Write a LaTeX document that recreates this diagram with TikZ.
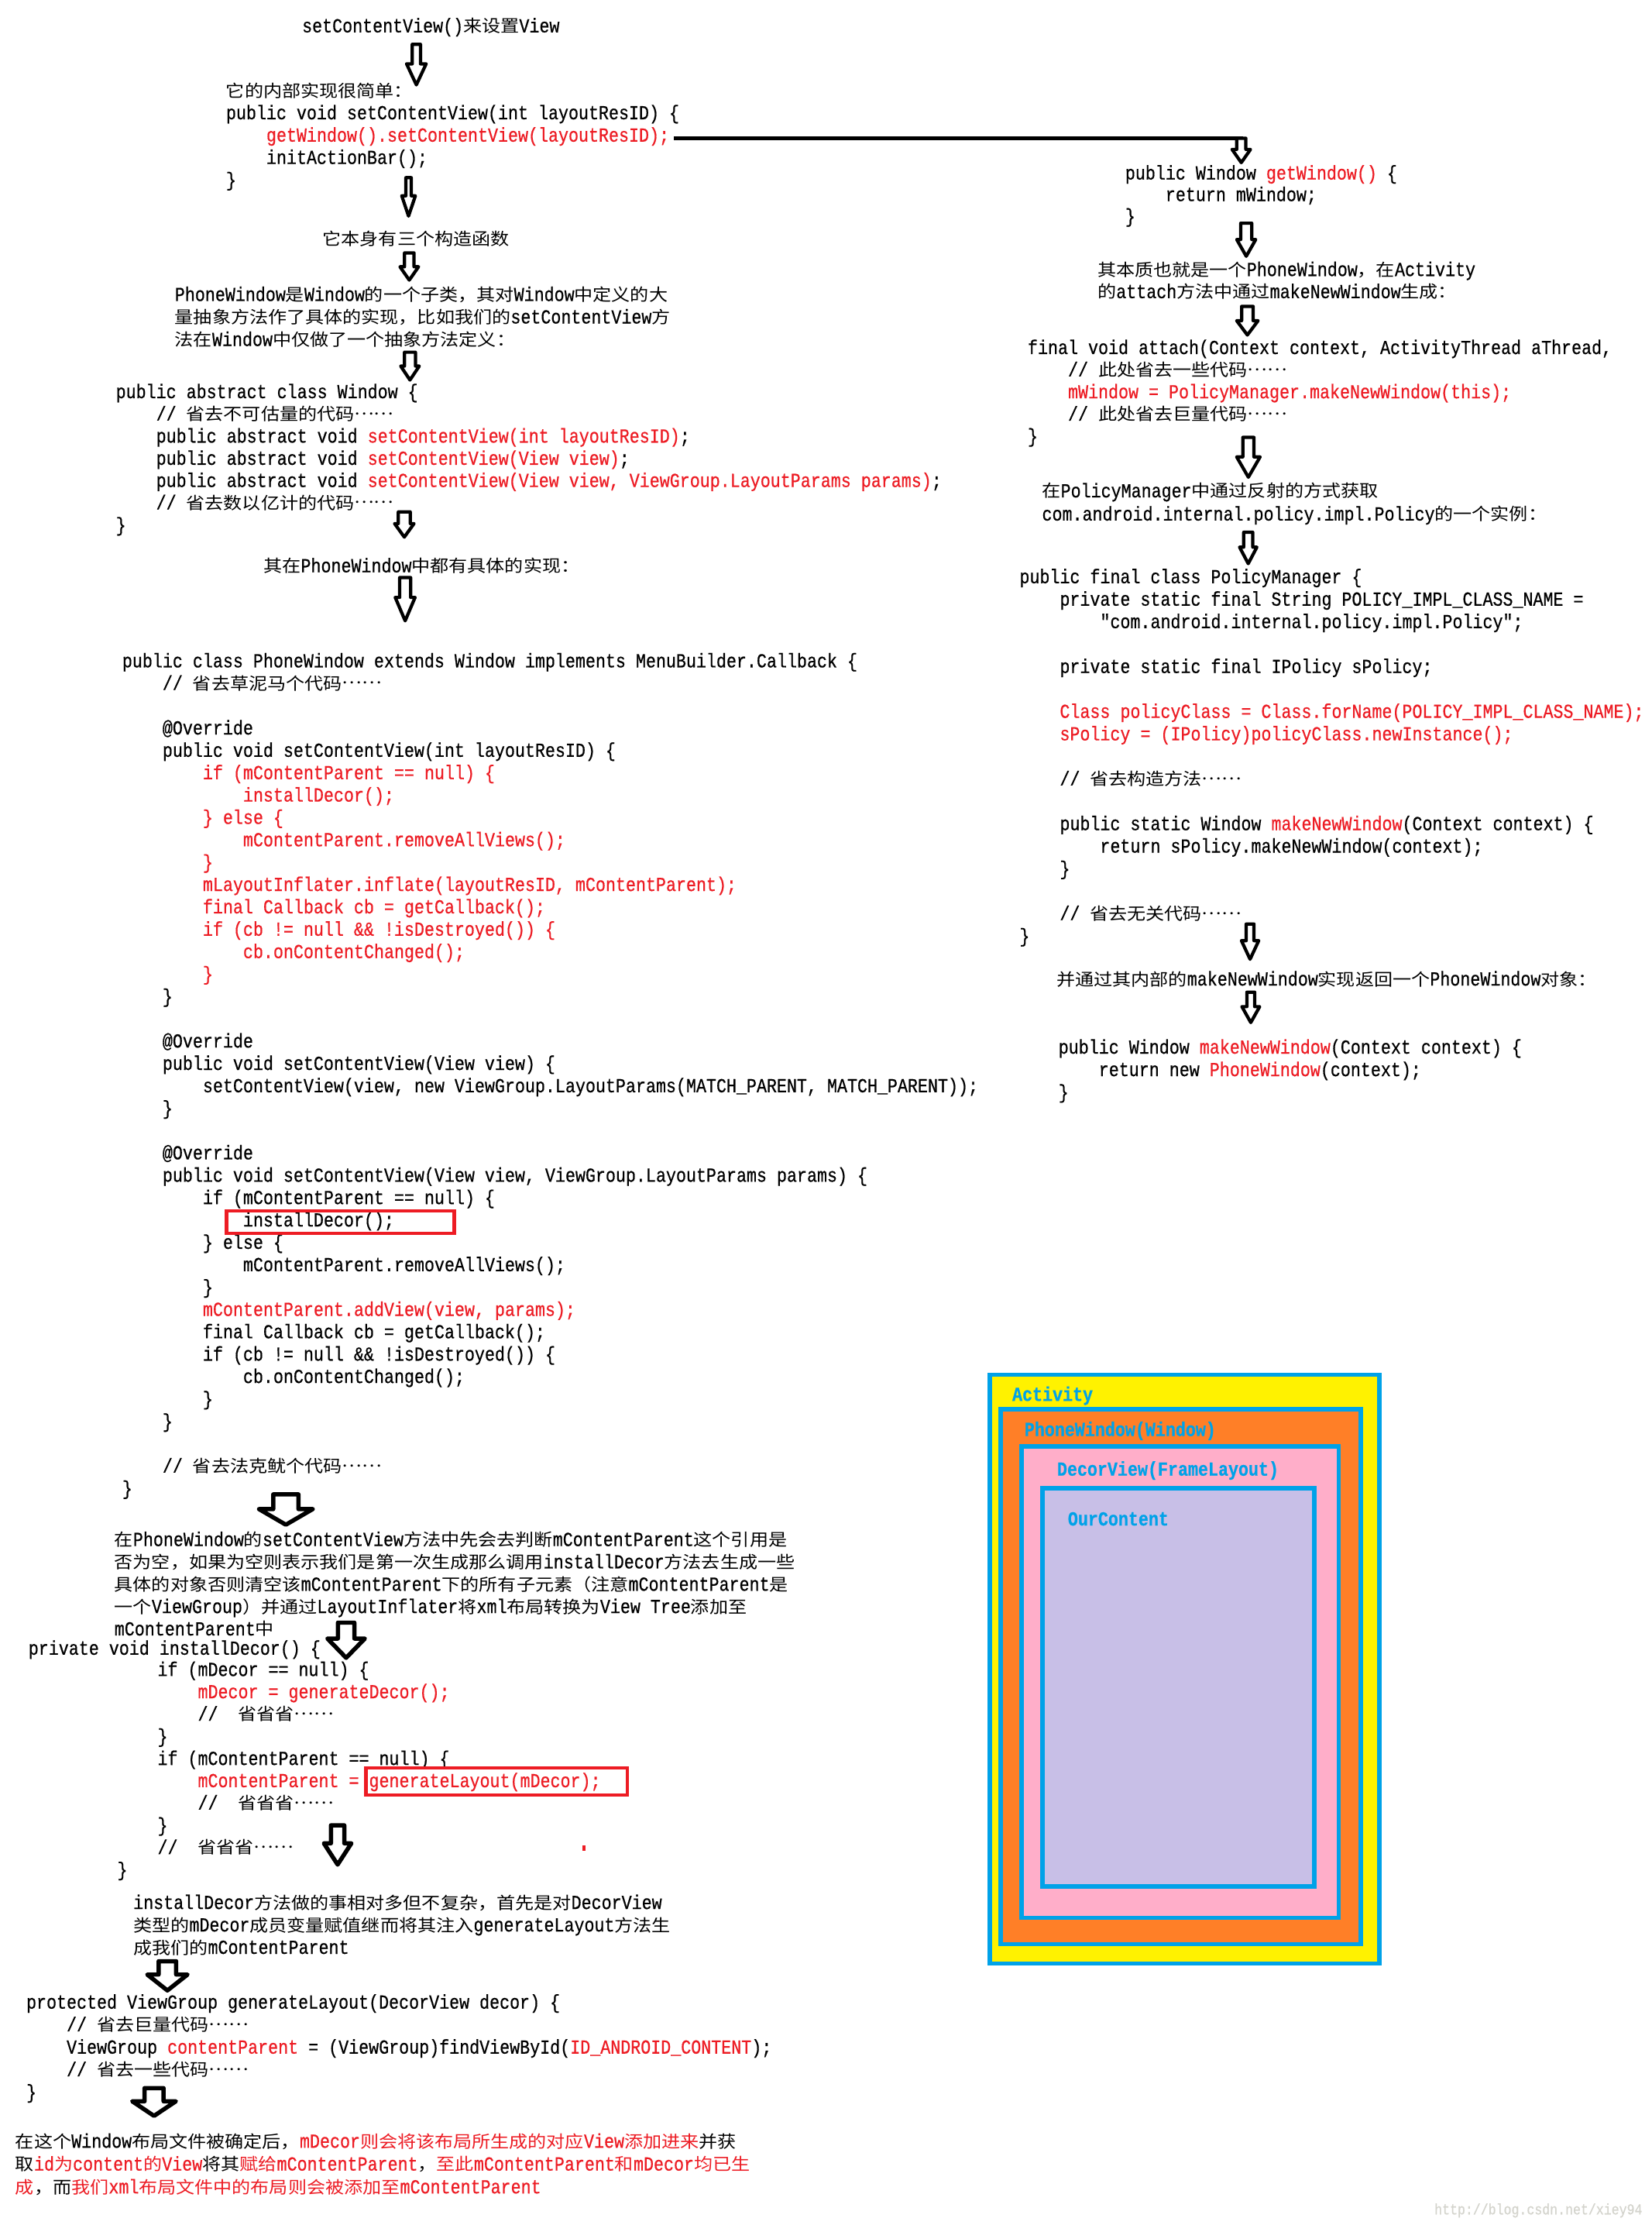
\documentclass[tikz,border=0pt]{standalone}
\usepackage{fontspec}
\setmonofont[FakeStretch=0.845,FakeBold=0.6]{Liberation Mono}
\newfontfamily\cjkfont[Scale=0.85,FakeStretch=1.105]{Noto Sans CJK SC}

\definecolor{codered}{RGB}{237,28,36}
\definecolor{layerblue}{RGB}{0,162,232}
\definecolor{layeryellow}{RGB}{255,242,0}
\definecolor{layerorange}{RGB}{255,127,39}
\definecolor{layerpink}{RGB}{255,174,201}
\definecolor{layerlilac}{RGB}{200,191,231}
\definecolor{wmgray}{RGB}{212,212,205}

% Chinese runs go to the CJK face, everything else to the mono face
\XeTeXinterchartokenstate=1
\newXeTeXintercharclass\cjkcls
\newcount\cjkc
\cjkc="4E00 \loop\XeTeXcharclass\cjkc=\cjkcls \advance\cjkc by 1 \ifnum\cjkc<"A000 \repeat
\cjkc="3000 \loop\XeTeXcharclass\cjkc=\cjkcls \advance\cjkc by 1 \ifnum\cjkc<"3040 \repeat
\cjkc="FF00 \loop\XeTeXcharclass\cjkc=\cjkcls \advance\cjkc by 1 \ifnum\cjkc<"FFF0 \repeat
\XeTeXcharclass"2026=\cjkcls
\XeTeXinterchartoks 0 \cjkcls={\cjkfont}
\XeTeXinterchartoks 4095 \cjkcls={\cjkfont}
\XeTeXinterchartoks \cjkcls 0={\ttfamily}
\XeTeXinterchartoks \cjkcls 4095={\ttfamily}
\XeTeXinterchartoks 4095 0={\ttfamily}

\newdimen\chw \chw=7.1pt
\newcommand\codefont{\ttfamily\fontsize{14}{15.8}\selectfont}
\newcommand\ind[1]{\hskip#1\chw\ignorespaces}
\newcommand\rd{\color{codered}}
\newcommand\bk{\color{black}}
\newcommand\elps{\raisebox{4pt}{……}}
\newcommand\crow[1]{\hbox{#1}}
\newcommand\codeblk[2][15.8pt]{\vtop{\baselineskip=#1\lineskiplimit=-\maxdimen #2}}

\begin{document}
\begin{tikzpicture}[x=1pt,y=1pt,yscale=-1,
  code/.style={anchor=base west,inner sep=0pt,font=\codefont},
  darr/.style={draw=black,fill=white,line width=2.3pt,line join=round},
  bigdarr/.style={darr,line width=3pt},
  joinline/.style={line width=2.5pt},
  hlbox/.style={draw=codered,line width=2.4pt},
  layer/.style={draw=layerblue,line width=3pt},
  layerlabel/.style={anchor=base west,inner sep=0pt,font={\codefont\bfseries},text=layerblue},
  watermark/.style={anchor=base west,inner sep=0pt,font={\ttfamily\fontsize{10.7}{12}\selectfont},text=wmgray}]

\fill[white] (0,0) rectangle (1164,1568);

%Shape: Rectangle (Activity)
\draw[layer,fill=layeryellow] (697.6,968.7) rectangle (972.3,1383.6);
%Shape: Rectangle (PhoneWindow)
\draw[layer,fill=layerorange] (705.3,993.2) rectangle (959.3,1370);
%Shape: Rectangle (DecorView)
\draw[layer,fill=layerpink] (720,1019.4) rectangle (943.6,1351.6);
%Shape: Rectangle (content)
\draw[layer,fill=layerlilac] (734.8,1048.9) rectangle (926.4,1329.3);

% Text Node
\node[layerlabel] (lblact) at (713.4,987.2) {Activity};
% Text Node
\node[layerlabel] (lblpw) at (722,1012) {PhoneWindow(Window)};
% Text Node
\node[layerlabel] (lbldecor) at (745,1039.9) {DecorView(FrameLayout)};
% Text Node
\node[layerlabel] (lblcontent) at (752.6,1075) {OurContent};

% Text Node
\node[code] (setview) at (212.8,22.8) {setContentView()来设置View};
% Text Node
\node[code] (inner) at (159.2,68.3) {\codeblk[15.75pt]{
  \crow{它的内部实现很简单：}
  \crow{public void setContentView(int layoutResID) \{}
  \crow{\ind{4}\rd getWindow().setContentView(layoutResID);}
  \crow{\ind{4}initActionBar();}
  \crow{\}}}};
% Text Node
\node[code] (threecons) at (227.3,172.7) {它本身有三个构造函数};
% Text Node
\node[code] (subclass) at (123.1,212.1) {\codeblk[15.85pt]{
  \crow{PhoneWindow是Window的一个子类，其对Window中定义的大}
  \crow{量抽象方法作了具体的实现，比如我们的setContentView方}
  \crow{法在Window中仅做了一个抽象方法定义：}}};
% Text Node
\node[code] (wincls) at (81.5,280.6) {\codeblk[15.65pt]{
  \crow{public abstract class Window \{}
  \crow{\ind{4}// 省去不可估量的代码\elps}
  \crow{\ind{4}public abstract void \rd setContentView(int layoutResID)\bk;}
  \crow{\ind{4}public abstract void \rd setContentView(View view)\bk;}
  \crow{\ind{4}public abstract void \rd setContentView(View view, ViewGroup.LayoutParams params)\bk;}
  \crow{\ind{4}// 省去数以亿计的代码\elps}
  \crow{\}}}};
% Text Node
\node[code] (impl) at (185.6,403.3) {其在PhoneWindow中都有具体的实现：};
% Text Node
\node[code] (pwcls) at (86,470.3) {\codeblk[15.76pt]{
  \crow{public class PhoneWindow extends Window implements MenuBuilder.Callback \{}
  \crow{\ind{4}// 省去草泥马个代码\elps}
  \crow{}
  \crow{\ind{4}@Override}
  \crow{\ind{4}public void setContentView(int layoutResID) \{}
  \crow{\ind{8}\rd if (mContentParent == null) \{}
  \crow{\ind{12}\rd installDecor();}
  \crow{\ind{8}\rd \} else \{}
  \crow{\ind{12}\rd mContentParent.removeAllViews();}
  \crow{\ind{8}\rd \}}
  \crow{\ind{8}\rd mLayoutInflater.inflate(layoutResID, mContentParent);}
  \crow{\ind{8}\rd final Callback cb = getCallback();}
  \crow{\ind{8}\rd if (cb != null \&\& !isDestroyed()) \{}
  \crow{\ind{12}\rd cb.onContentChanged();}
  \crow{\ind{8}\rd \}}
  \crow{\ind{4}\}}
  \crow{}
  \crow{\ind{4}@Override}
  \crow{\ind{4}public void setContentView(View view) \{}
  \crow{\ind{8}setContentView(view, new ViewGroup.LayoutParams(MATCH\_PARENT, MATCH\_PARENT));}
  \crow{\ind{4}\}}
  \crow{}
  \crow{\ind{4}@Override}
  \crow{\ind{4}public void setContentView(View view, ViewGroup.LayoutParams params) \{}
  \crow{\ind{8}if (mContentParent == null) \{}
  \crow{\ind{12}installDecor();}
  \crow{\ind{8}\} else \{}
  \crow{\ind{12}mContentParent.removeAllViews();}
  \crow{\ind{8}\}}
  \crow{\ind{8}\rd mContentParent.addView(view, params);}
  \crow{\ind{8}final Callback cb = getCallback();}
  \crow{\ind{8}if (cb != null \&\& !isDestroyed()) \{}
  \crow{\ind{12}cb.onContentChanged();}
  \crow{\ind{8}\}}
  \crow{\ind{4}\}}
  \crow{}
  \crow{\ind{4}// 省去法克鱿个代码\elps}
  \crow{\}}}};
% Text Node
\node[code] (judge) at (80.5,1089.5) {\codeblk[15.75pt]{
  \crow{在PhoneWindow的setContentView方法中先会去判断mContentParent这个引用是}
  \crow{否为空，如果为空则表示我们是第一次生成那么调用installDecor方法去生成一些}
  \crow{具体的对象否则清空该mContentParent下的所有子元素（注意mContentParent是}
  \crow{一个ViewGroup）并通过LayoutInflater将xml布局转换为View Tree添加至}
  \crow{mContentParent中}}};
% Text Node
\node[code] (instdecor) at (19.9,1166.1) {private void installDecor() \{};
% Text Node
\node[code] (instbody) at (82.5,1181.1) {\codeblk[15.67pt]{
  \crow{\ind{4}if (mDecor == null) \{}
  \crow{\ind{8}\rd mDecor = generateDecor();}
  \crow{\ind{8}//\ \ 省省省\elps}
  \crow{\ind{4}\}}
  \crow{\ind{4}if (mContentParent == null) \{}
  \crow{\ind{8}\rd mContentParent = generateLayout(mDecor);}
  \crow{\ind{8}//\ \ 省省省\elps}
  \crow{\ind{4}\}}
  \crow{\ind{4}//\ \ 省省省\elps}
  \crow{\}}}};
% Text Node
\node[code] (decorexpl) at (93.8,1345.3) {\codeblk[15.8pt]{
  \crow{installDecor方法做的事相对多但不复杂，首先是对DecorView}
  \crow{类型的mDecor成员变量赋值继而将其注入generateLayout方法生}
  \crow{成我们的mContentParent}}};
% Text Node
\node[code] (genlayout) at (18.4,1415.5) {\codeblk[15.85pt]{
  \crow{protected ViewGroup generateLayout(DecorView decor) \{}
  \crow{\ind{4}// 省去巨量代码\elps}
  \crow{\ind{4}ViewGroup \rd contentParent\bk{} = (ViewGroup)findViewById(\rd ID\_ANDROID\_CONTENT\bk);}
  \crow{\ind{4}// 省去一些代码\elps}
  \crow{\}}}};
% Text Node
\node[code] (result) at (10.7,1513.5) {\codeblk[16.1pt]{
  \crow{在这个Window布局文件被确定后，\rd mDecor则会将该布局所生成的对应View添加进来\bk 并获}
  \crow{取\rd id为content的View\bk 将其\rd 赋给mContentParent\bk ，\rd 至此mContentParent和mDecor均已生}
  \crow{\rd 成\bk ，而\rd 我们xml布局文件中的布局则会被添加至mContentParent}}};

% Text Node
\node[code] (getwin) at (793,126.5) {\codeblk[15.2pt]{
  \crow{public Window \rd getWindow()\bk{} \{}
  \crow{\ind{4}return mWindow;}
  \crow{\}}}};
% Text Node
\node[code] (essence) at (773.5,194.5) {\codeblk[15.6pt]{
  \crow{其本质也就是一个PhoneWindow，在Activity}
  \crow{的attach方法中通过makeNewWindow生成：}}};
% Text Node
\node[code] (attach) at (724.3,249.5) {\codeblk[15.6pt]{
  \crow{final void attach(Context context, ActivityThread aThread,}
  \crow{\ind{4}// 此处省去一些代码\elps}
  \crow{\ind{4}\rd mWindow = PolicyManager.makeNewWindow(this);}
  \crow{\ind{4}// 此处省去巨量代码\elps}
  \crow{\}}}};
% Text Node
\node[code] (reflect) at (734.4,350.5) {\codeblk[16.3pt]{
  \crow{在PolicyManager中通过反射的方式获取}
  \crow{com.android.internal.policy.impl.Policy的一个实例：}}};
% Text Node
\node[code] (policymgr) at (718.5,411) {\codeblk[15.82pt]{
  \crow{public final class PolicyManager \{}
  \crow{\ind{4}private static final String POLICY\_IMPL\_CLASS\_NAME =}
  \crow{\ind{8}"com.android.internal.policy.impl.Policy";}
  \crow{}
  \crow{\ind{4}private static final IPolicy sPolicy;}
  \crow{}
  \crow{\ind{4}\rd Class policyClass = Class.forName(POLICY\_IMPL\_CLASS\_NAME);}
  \crow{\ind{4}\rd sPolicy = (IPolicy)policyClass.newInstance();}
  \crow{}
  \crow{\ind{4}// 省去构造方法\elps}
  \crow{}
  \crow{\ind{4}public static Window \rd makeNewWindow\bk (Context context) \{}
  \crow{\ind{8}return sPolicy.makeNewWindow(context);}
  \crow{\ind{4}\}}
  \crow{}
  \crow{\ind{4}// 省去无关代码\elps}
  \crow{\}}}};
% Text Node
\node[code] (returns) at (744.6,694.5) {并通过其内部的makeNewWindow实现返回一个PhoneWindow对象：};
% Text Node
\node[code] (mknew) at (746,742.5) {\codeblk[15.85pt]{
  \crow{public Window \rd makeNewWindow\bk (Context context) \{}
  \crow{\ind{4}return new \rd PhoneWindow\bk (context);}
  \crow{\}}}};

% Text Node
\node[watermark] (wmark) at (1011,1560.5) {http://blog.csdn.net/xiey94};

%Straight Lines
\coordinate (gwend) at (475,97.5);
\coordinate (r1top) at (876,97.5);
\draw[joinline] (gwend) -- (r1top);

%Shape: Down Arrow
\draw[darr] (290.6,31.2) -- (296.4,31.2) -- (296.4,45) -- (300.4,45) -- (293.5,59.8) -- (286.6,45) -- (290.6,45) -- cycle;
%Shape: Down Arrow
\draw[darr] (286.1,125.2) -- (289.9,125.2) -- (289.9,138) -- (292.8,138) -- (288,152.3) -- (283.2,138) -- (286.1,138) -- cycle;
%Shape: Down Arrow
\draw[darr] (285.15,178.2) -- (291.85,178.2) -- (291.85,188) -- (295.05,188) -- (288.5,197.4) -- (281.95,188) -- (285.15,188) -- cycle;
%Shape: Down Arrow
\draw[darr] (285.15,248.2) -- (292.85,248.2) -- (292.85,258) -- (295.55,258) -- (289,267.8) -- (282.45,258) -- (285.15,258) -- cycle;
%Shape: Down Arrow
\draw[darr] (280.8,360.7) -- (289.2,360.7) -- (289.2,369) -- (291.85,369) -- (285,378.5) -- (278.15,369) -- (280.8,369) -- cycle;
%Shape: Down Arrow
\draw[darr] (281.75,407) -- (289.45,407) -- (289.45,421) -- (292.6,421) -- (285.6,437.5) -- (278.6,421) -- (281.75,421) -- cycle;
%Shape: Down Arrow
\draw[bigdarr] (192.6,1053.1) -- (210.4,1053.1) -- (210.4,1063.5) -- (220.4,1063.5) -- (201.5,1074.5) -- (182.6,1063.5) -- (192.6,1063.5) -- cycle;
%Shape: Down Arrow
\draw[bigdarr] (238.2,1143.5) -- (249.8,1143.5) -- (249.8,1154.7) -- (257.2,1154.7) -- (244,1168.3) -- (230.8,1154.7) -- (238.2,1154.7) -- cycle;
%Shape: Down Arrow
\draw[bigdarr] (233.3,1286.3) -- (242.7,1286.3) -- (242.7,1299) -- (247.7,1299) -- (238,1314) -- (228.3,1299) -- (233.3,1299) -- cycle;
%Shape: Down Arrow
\draw[bigdarr] (111.8,1382.1) -- (124.2,1382.1) -- (124.2,1391.5) -- (132.2,1391.5) -- (118,1402.7) -- (103.8,1391.5) -- (111.8,1391.5) -- cycle;
%Shape: Down Arrow
\draw[bigdarr] (101.9,1471.5) -- (115.3,1471.5) -- (115.3,1480.8) -- (124,1480.8) -- (108.6,1491.1) -- (93.2,1480.8) -- (101.9,1480.8) -- cycle;
%Shape: Down Arrow
\draw[darr] (871.8,97.4) -- (878.2,97.4) -- (878.2,105.3) -- (881.5,105.3) -- (875,114.6) -- (868.5,105.3) -- (871.8,105.3) -- cycle;
%Shape: Down Arrow
\draw[darr] (874.6,157.3) -- (882.4,157.3) -- (882.4,168.8) -- (885.2,168.8) -- (878.5,180.6) -- (871.8,168.8) -- (874.6,168.8) -- cycle;
%Shape: Down Arrow
\draw[darr] (875.25,215.9) -- (883.35,215.9) -- (883.35,226) -- (886.85,226) -- (879.3,236.1) -- (871.75,226) -- (875.25,226) -- cycle;
%Shape: Down Arrow
\draw[darr] (876.1,308.2) -- (883.9,308.2) -- (883.9,322) -- (888.25,322) -- (880,336.3) -- (871.75,322) -- (876.1,322) -- cycle;
%Shape: Down Arrow
\draw[darr] (876.7,375.1) -- (883.1,375.1) -- (883.1,385.6) -- (886,385.6) -- (879.9,397.2) -- (873.8,385.6) -- (876.7,385.6) -- cycle;
%Shape: Down Arrow
\draw[darr] (878.45,651.2) -- (883.95,651.2) -- (883.95,662.9) -- (887.3,662.9) -- (881.2,676) -- (875.1,662.9) -- (878.45,662.9) -- cycle;
%Shape: Down Arrow
\draw[darr] (878.95,699.2) -- (884.45,699.2) -- (884.45,709.4) -- (887.95,709.4) -- (881.7,720.6) -- (875.45,709.4) -- (878.95,709.4) -- cycle;

%Shape: Rectangle (highlight)
\draw[hlbox] (159.7,853.4) rectangle (320.1,869.2);
%Shape: Rectangle (highlight)
\draw[hlbox] (257.9,1246) rectangle (442.2,1265);
%Shape: Rectangle (stray dot)
\fill[codered] (410.8,1300.5) rectangle (412.6,1304.3);

\end{tikzpicture}
\end{document}
